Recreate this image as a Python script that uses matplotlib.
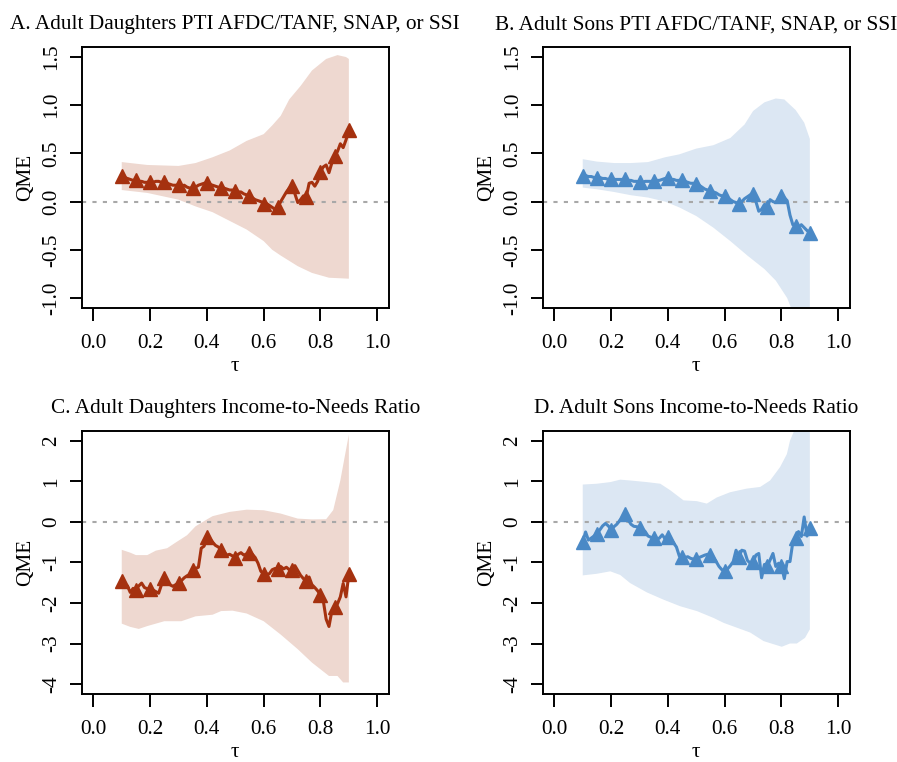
import numpy as np
import matplotlib
matplotlib.use("Agg")
import matplotlib.pyplot as plt

plt.rcParams['font.family'] = ['Liberation Serif', 'DejaVu Serif']
plt.rcParams['axes.unicode_minus'] = False

# ---------------- data ----------------
tau = [round(0.10 + 0.01 * i, 2) for i in range(81)]
marker_tau = [round(0.10 + 0.05 * i, 2) for i in range(17)]

titles = ["A. Adult Daughters PTI AFDC/TANF, SNAP, or SSI",
          "B. Adult Sons PTI AFDC/TANF, SNAP, or SSI",
          "C. Adult Daughters Income-to-Needs Ratio",
          "D. Adult Sons Income-to-Needs Ratio"]

a_qme = [0.27, 0.25, 0.24, 0.23, 0.22, 0.22, 0.21, 0.21, 0.20, 0.20,
         0.20, 0.20, 0.21, 0.21, 0.20, 0.20, 0.19, 0.18, 0.17, 0.17,
         0.17, 0.16, 0.17, 0.15, 0.14, 0.14, 0.15, 0.17, 0.18, 0.19,
         0.19, 0.18, 0.17, 0.16, 0.15, 0.14, 0.14, 0.13, 0.12, 0.12,
         0.11, 0.10, 0.10, 0.08, 0.07, 0.06, 0.04, 0.02, 0.01, 0.00,
         -0.02, -0.02, -0.04, -0.06, -0.08, -0.06, 0.00, 0.05, 0.10, 0.14,
         0.16, 0.08, -0.01, 0.02, 0.06, 0.05, 0.19, 0.20, 0.16, 0.21,
         0.31, 0.36, 0.38, 0.30, 0.40, 0.47, 0.52, 0.60, 0.56, 0.64,
         0.74]
a_up_tau = [0.10, 0.19, 0.30, 0.36, 0.42, 0.48, 0.54, 0.60, 0.63, 0.66, 0.69, 0.73, 0.77, 0.82, 0.86, 0.89, 0.90]
a_upper = [0.41, 0.38, 0.37, 0.40, 0.46, 0.53, 0.63, 0.70, 0.79, 0.89, 1.06, 1.20, 1.36, 1.48, 1.52, 1.50, 1.48]
a_lo_tau = [0.10, 0.19, 0.30, 0.36, 0.42, 0.48, 0.54, 0.60, 0.63, 0.66, 0.72, 0.77, 0.83, 0.90]
a_lower = [0.12, 0.09, 0.02, -0.05, -0.11, -0.20, -0.29, -0.41, -0.50, -0.56, -0.67, -0.74, -0.79, -0.80]

b_qme = [0.27, 0.27, 0.26, 0.26, 0.25, 0.25, 0.25, 0.24, 0.24, 0.23,
         0.23, 0.23, 0.23, 0.23, 0.23, 0.23, 0.22, 0.22, 0.21, 0.21,
         0.20, 0.20, 0.21, 0.21, 0.21, 0.21, 0.22, 0.22, 0.23, 0.24,
         0.24, 0.23, 0.23, 0.22, 0.22, 0.22, 0.21, 0.20, 0.19, 0.19,
         0.18, 0.17, 0.15, 0.13, 0.12, 0.11, 0.10, 0.09, 0.07, 0.06,
         0.06, 0.04, 0.02, 0.00, -0.01, -0.02, 0.00, 0.03, 0.05, 0.07,
         0.08, 0.00, -0.10, -0.08, -0.03, -0.06, 0.02, 0.00, -0.01, 0.03,
         0.06, 0.04, 0.01, -0.14, -0.24, -0.25, -0.27, -0.24, -0.27, -0.30,
         -0.33]
b_up_tau = [0.10, 0.15, 0.21, 0.27, 0.33, 0.39, 0.44, 0.50, 0.56, 0.62, 0.67, 0.70, 0.74, 0.78, 0.81, 0.85, 0.88, 0.90]
b_upper = [0.44, 0.415, 0.40, 0.40, 0.41, 0.46, 0.49, 0.55, 0.585, 0.66, 0.80, 0.94, 1.03, 1.07, 1.06, 0.95, 0.82, 0.65]
b_lo_tau = [0.10, 0.15, 0.21, 0.27, 0.33, 0.39, 0.44, 0.50, 0.56, 0.62, 0.68, 0.74, 0.78, 0.82, 0.84, 0.87, 0.90]
b_lower = [0.145, 0.128, 0.10, 0.066, 0.042, 0.0, -0.06, -0.15, -0.27, -0.41, -0.56, -0.70, -0.82, -1.00, -1.15, -1.30, -1.40]

c_qme = [-1.45, -1.62, -1.58, -1.74, -1.64, -1.67, -1.58, -1.51, -1.62, -1.65,
         -1.66, -1.68, -1.72, -1.76, -1.55, -1.39, -1.47, -1.55, -1.59, -1.55,
         -1.51, -1.45, -1.38, -1.33, -1.30, -1.18, -1.15, -1.12, -0.65, -0.60,
         -0.38, -0.42, -0.50, -0.58, -0.62, -0.69, -0.75, -0.82, -0.80, -0.84,
         -0.88, -0.80, -0.76, -0.82, -0.79, -0.78, -0.80, -0.88, -1.02, -1.22,
         -1.28, -1.30, -1.28, -1.18, -1.15, -1.17, -1.10, -1.16, -1.12, -1.18,
         -1.18, -1.08, -1.20, -1.32, -1.40, -1.47, -1.36, -1.55, -1.62, -1.70,
         -1.80, -1.95, -2.40, -2.58, -2.20, -2.11, -2.02, -1.85, -1.52, -1.85,
         -1.29]
c_up_tau = [0.10, 0.13, 0.15, 0.19, 0.22, 0.26, 0.29, 0.33, 0.36, 0.40, 0.42, 0.48, 0.54, 0.60, 0.66, 0.72, 0.77, 0.82, 0.845, 0.87, 0.885, 0.90]
c_upper = [-0.69, -0.76, -0.82, -0.82, -0.71, -0.65, -0.51, -0.33, -0.11, 0.06, 0.14, 0.245, 0.30, 0.286, 0.204, 0.08, 0.06, 0.065, 0.29, 1.02, 1.59, 2.15]
c_lo_tau = [0.10, 0.13, 0.16, 0.19, 0.25, 0.31, 0.36, 0.42, 0.45, 0.49, 0.54, 0.60, 0.66, 0.72, 0.77, 0.83, 0.86, 0.88, 0.90]
c_lower = [-2.51, -2.59, -2.64, -2.57, -2.45, -2.45, -2.33, -2.29, -2.20, -2.19, -2.26, -2.45, -2.78, -3.14, -3.47, -3.80, -3.80, -3.96, -3.96]

d_qme = [-0.49, -0.25, -0.45, -0.40, -0.35, -0.30, -0.20, -0.10, -0.04, -0.10,
         -0.19, -0.12, -0.06, 0.03, 0.10, 0.19, 0.05, -0.06, -0.11, -0.12,
         -0.14, -0.18, -0.24, -0.35, -0.38, -0.41, -0.44, -0.40, -0.32, -0.42,
         -0.38, -0.42, -0.52, -0.62, -0.84, -0.87, -0.88, -0.86, -0.90, -0.92,
         -0.92, -0.88, -0.85, -0.82, -0.80, -0.82, -0.88, -0.98, -1.10, -1.18,
         -1.20, -1.16, -1.08, -0.98, -0.70, -0.87, -0.70, -0.72, -0.95, -1.02,
         -1.00, -0.82, -0.78, -1.38, -1.05, -1.10, -0.94, -0.78, -1.10, -1.02,
         -1.08, -1.40, -0.98, -0.98, -0.50, -0.41, -0.24, -0.36, 0.12, -0.35,
         -0.16]
d_up_tau = [0.10, 0.15, 0.197, 0.232, 0.267, 0.326, 0.373, 0.408, 0.455, 0.502, 0.537, 0.572, 0.619, 0.678, 0.725, 0.76, 0.795, 0.819, 0.83, 0.842, 0.87, 0.90]
d_upper = [0.92, 0.94, 0.98, 1.04, 1.02, 0.98, 0.94, 0.78, 0.53, 0.51, 0.45, 0.60, 0.73, 0.82, 0.86, 1.02, 1.35, 1.67, 2.00, 2.20, 2.60, 3.00]
d_lo_tau = [0.10, 0.15, 0.197, 0.232, 0.267, 0.326, 0.385, 0.443, 0.502, 0.561, 0.596, 0.643, 0.69, 0.737, 0.801, 0.83, 0.854, 0.883, 0.90]
d_lower = [-1.32, -1.28, -1.22, -1.31, -1.51, -1.74, -1.92, -2.08, -2.20, -2.37, -2.49, -2.61, -2.73, -2.94, -3.08, -3.00, -3.00, -2.86, -2.65]

x_ticks = [0.0, 0.2, 0.4, 0.6, 0.8, 1.0]
x_ticklabels = ["0.0", "0.2", "0.4", "0.6", "0.8", "1.0"]
y_ticks_top = [-1.0, -0.5, 0.0, 0.5, 1.0, 1.5]
y_ticklabels_top = ["-1.0", "-0.5", "0.0", "0.5", "1.0", "1.5"]
y_ticks_bot = [-4, -3, -2, -1, 0, 1, 2]
y_ticklabels_bot = ["-4", "-3", "-2", "-1", "0", "1", "2"]

RED_LINE = "#A5310F"
RED_BAND = "#EED8D0"
BLUE_LINE = "#4A89C6"
BLUE_BAND = "#DCE7F3"

# ---------------- figure ----------------
W, H = 897, 762
fig = plt.figure(figsize=(W / 100, H / 100), dpi=100)

def frac(left, top, right, bottom):
    return [left / W, 1 - bottom / H, (right - left) / W, (bottom - top) / H]

panels = [
    dict(rect=frac(82, 47.4, 388.6, 307.6), qme=a_qme, ut=a_up_tau, up=a_upper, lt=a_lo_tau, lo=a_lower,
         line=RED_LINE, band=RED_BAND, yt=y_ticks_top, ytl=y_ticklabels_top, ylim=(-1.1, 1.6)),
    dict(rect=frac(543, 47.4, 849.6, 307.6), qme=b_qme, ut=b_up_tau, up=b_upper, lt=b_lo_tau, lo=b_lower,
         line=BLUE_LINE, band=BLUE_BAND, yt=y_ticks_top, ytl=y_ticklabels_top, ylim=(-1.1, 1.6)),
    dict(rect=frac(82, 431, 388.6, 693.8), qme=c_qme, ut=c_up_tau, up=c_upper, lt=c_lo_tau, lo=c_lower,
         line=RED_LINE, band=RED_BAND, yt=y_ticks_bot, ytl=y_ticklabels_bot, ylim=(-4.24, 2.24)),
    dict(rect=frac(543, 431, 849.6, 693.8), qme=d_qme, ut=d_up_tau, up=d_upper, lt=d_lo_tau, lo=d_lower,
         line=BLUE_LINE, band=BLUE_BAND, yt=y_ticks_bot, ytl=y_ticklabels_bot, ylim=(-4.24, 2.24)),
]

FS = 15.3
for p, title in zip(panels, titles):
    ax = fig.add_axes(p["rect"])
    poly_x = list(p["ut"]) + list(p["lt"])[::-1]
    poly_y = list(p["up"]) + list(p["lo"])[::-1]
    ax.fill(poly_x, poly_y, color=p["band"], lw=0, zorder=1)
    ax.axhline(0, color="#A8A8A8", lw=1.5, ls=(0, (2, 3)), zorder=2)
    ax.plot(tau, p["qme"], color=p["line"], lw=2.2, zorder=3)
    mvals = [p["qme"][tau.index(t)] for t in marker_tau]
    ax.plot(marker_tau, mvals, ls="none", marker="^", ms=10, color=p["line"], zorder=4)
    ax.set_xlim(-0.04, 1.04)
    ax.set_ylim(*p["ylim"])
    ax.set_xticks(x_ticks)
    ax.set_xticklabels(x_ticklabels, fontsize=FS)
    ax.set_yticks(p["yt"])
    ax.set_yticklabels(p["ytl"], fontsize=FS, rotation=90, va="center")
    ax.tick_params(axis="both", direction="out", length=9, width=1.4, color="black")
    ax.tick_params(axis="x", pad=10)
    ax.tick_params(axis="y", pad=6)
    for s in ax.spines.values():
        s.set_linewidth(1.4)
    ax.set_xlabel("τ", fontsize=FS, labelpad=3)
    ax.set_ylabel("QME", fontsize=FS, labelpad=5)
    ax.set_title(title, fontsize=FS, pad=13)

fig.savefig("out.png", dpi=100)
